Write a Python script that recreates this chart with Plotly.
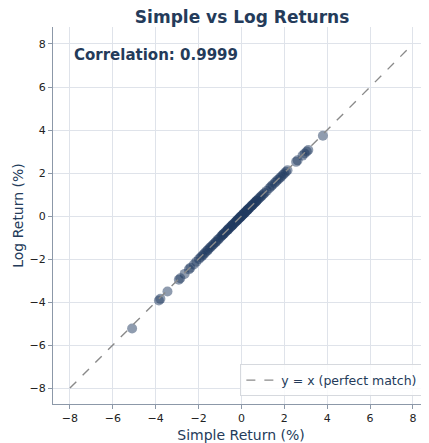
import plotly.graph_objects as go

# Simple vs log daily returns (%)
simple_ret = [-5.10, -3.85, -3.78, -3.45, -2.92, -2.85, -2.65, -2.45, -2.38, -2.22,
              -2.10, -1.98, -1.90, -1.82, -1.75, -1.68, -1.60, -1.55, -1.48, -1.42,
              -1.35, -1.30, -1.22, -1.18, -1.10, -1.05, -0.98, -0.92, -0.88, -0.82,
              -0.76, -0.71, -0.66, -0.61, -0.55, -0.50, -0.46, -0.41, -0.37, -0.32,
              -0.28, -0.24, -0.19, -0.15, -0.11, -0.07, -0.03, 0.01, 0.04, 0.08,
              0.12, 0.16, 0.19, 0.23, 0.27, 0.31, 0.35, 0.39, 0.44, 0.48,
              0.53, 0.58, 0.62, 0.67, 0.72, 0.78, 0.84, 0.90, 0.95, 1.02,
              1.08, 1.18, 1.30, 1.38, 1.45, 1.55, 1.62, 1.70, 1.78, 1.85,
              1.93, 2.00, 2.08, 2.15, 2.55, 2.62, 2.85, 2.95, 3.05, 3.12,
              3.80, -0.85, -0.63, -0.44, -0.21, -0.05, 0.10, 0.29, 0.50, 0.70]
log_ret = [-5.23, -3.93, -3.85, -3.51, -2.96, -2.89, -2.69, -2.48, -2.41, -2.25,
           -2.12, -2.00, -1.92, -1.84, -1.77, -1.69, -1.61, -1.56, -1.49, -1.43,
           -1.36, -1.31, -1.23, -1.19, -1.11, -1.06, -0.99, -0.92, -0.88, -0.82,
           -0.76, -0.71, -0.66, -0.61, -0.55, -0.50, -0.46, -0.41, -0.37, -0.32,
           -0.28, -0.24, -0.19, -0.15, -0.11, -0.07, -0.03, 0.01, 0.04, 0.08,
           0.12, 0.16, 0.19, 0.23, 0.27, 0.31, 0.35, 0.39, 0.44, 0.48,
           0.53, 0.58, 0.62, 0.67, 0.72, 0.78, 0.84, 0.90, 0.95, 1.01,
           1.07, 1.17, 1.29, 1.37, 1.44, 1.54, 1.61, 1.69, 1.76, 1.83,
           1.91, 1.98, 2.06, 2.13, 2.52, 2.59, 2.81, 2.91, 3.00, 3.07,
           3.73, -0.85, -0.63, -0.44, -0.21, -0.05, 0.10, 0.29, 0.50, 0.70]
ref_line = [-8, 8]
tick_vals = [-8, -6, -4, -2, 0, 2, 4, 6, 8]
corr_text = "Correlation: 0.9999"

NAVY = "#243b5a"
FONT = "DejaVu Sans"

fig = go.Figure()
fig.add_trace(go.Scatter(x=simple_ret, y=log_ret, mode="markers",
                         marker=dict(size=10, color="#1f3a5f", opacity=0.5,
                                     line=dict(width=0)),
                         showlegend=False, hoverinfo="skip"))
fig.add_trace(go.Scatter(x=ref_line, y=ref_line, mode="lines",
                         line=dict(color="#8a8a8a", width=1.4, dash="dash"),
                         name="y = x (perfect match)"))

axis_common = dict(tickvals=tick_vals, showgrid=True,
                   gridcolor="#dfe3ea", gridwidth=1, zeroline=False,
                   showline=True, linecolor="#8c98a8", linewidth=1.2,
                   ticks="outside", ticklen=4, tickcolor="#8c98a8",
                   tickfont=dict(family=FONT, size=11, color="#222222"))

# page body has an 8px margin, so the figure is a bit smaller than the window
fig.update_layout(
    width=421, height=435,
    paper_bgcolor="white", plot_bgcolor="white",
    margin=dict(l=45, r=0, t=19, b=39),
    font=dict(family=FONT, color=NAVY),
    title=dict(text="<b>Simple vs Log Returns</b>", x=0.556, xanchor="center",
               y=0.979, yanchor="middle",
               font=dict(family=FONT, size=17, color=NAVY)),
    xaxis=dict(axis_common, range=[-8.79, 8.75],
               title=dict(text="Simple Return (%)", standoff=6,
                          font=dict(family=FONT, size=14, color=NAVY))),
    yaxis=dict(axis_common, range=[-8.74, 8.79],
               title=dict(text="Log Return (%)", standoff=2,
                          font=dict(family=FONT, size=14, color=NAVY))),
    legend=dict(x=0.985, y=0.02, xanchor="right", yanchor="bottom",
                itemwidth=30,
                bgcolor="rgba(255,255,255,0.85)", bordercolor="#d6d9de",
                borderwidth=1, font=dict(family=FONT, size=12.5, color=NAVY)),
)

fig.add_annotation(text="<b>" + corr_text + "</b>", xref="paper", yref="paper",
                   x=0.051, y=0.925, xanchor="left", yanchor="middle",
                   showarrow=False, font=dict(family=FONT, size=15, color=NAVY))

fig.write_html("out.html")
